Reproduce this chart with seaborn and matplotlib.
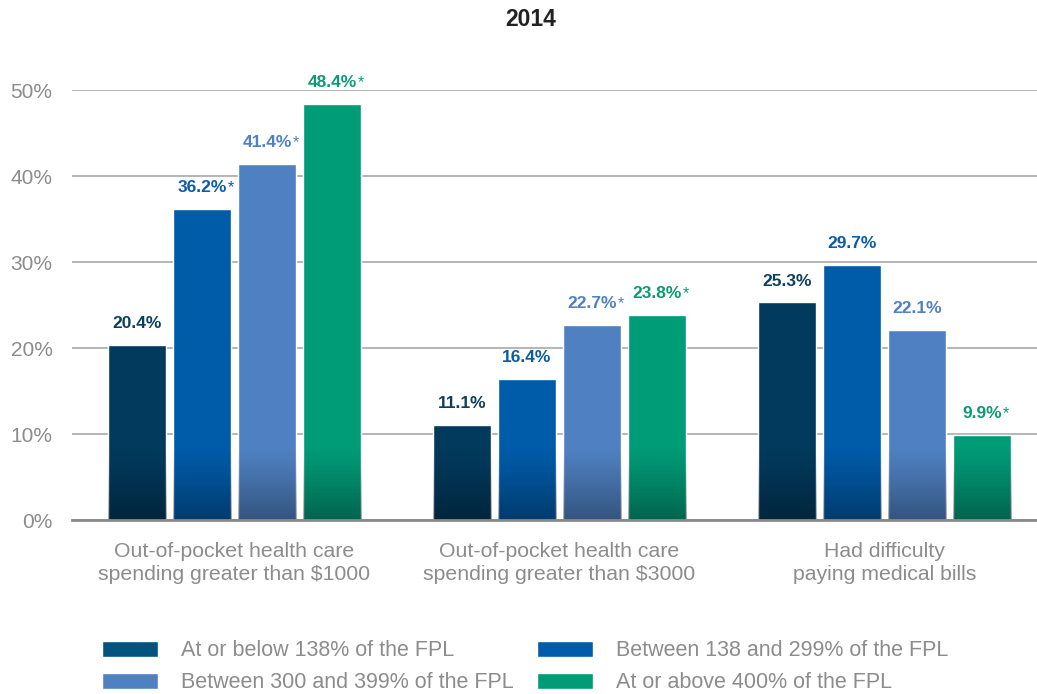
import numpy as np
import pandas as pd
import seaborn as sns
import matplotlib.pyplot as plt
import matplotlib.patches as mpatches

sns.set_style('white')
plt.rcParams['font.family'] = ['Liberation Sans', 'DejaVu Sans']

categories = ['Out-of-pocket health care\nspending greater than $1000',
              'Out-of-pocket health care\nspending greater than $3000',
              'Had difficulty\npaying medical bills']
groups = ['At or below 138% of the FPL', 'Between 138 and 299% of the FPL',
          'Between 300 and 399% of the FPL', 'At or above 400% of the FPL']
values = {
    'At or below 138% of the FPL': [20.4, 11.1, 25.3],
    'Between 138 and 299% of the FPL': [36.2, 16.4, 29.7],
    'Between 300 and 399% of the FPL': [41.4, 22.7, 22.1],
    'At or above 400% of the FPL': [48.4, 23.8, 9.9],
}
significant = {
    'At or below 138% of the FPL': [False, False, False],
    'Between 138 and 299% of the FPL': [True, False, False],
    'Between 300 and 399% of the FPL': [True, True, False],
    'At or above 400% of the FPL': [True, True, True],
}
yticks = [0, 10, 20, 30, 40, 50]

bar_colors = ['#023a5d', '#005ba9', '#4f81c2', '#009b77']
label_colors = ['#0d3f5e', '#0a5ba8', '#4f81c2', '#0d9b77']
legend_colors = ['#02537e', '#005ba9', '#4f81c2', '#009b77']
gray = '#8c8c8c'

rows = []
for g in groups:
    for c, v in zip(categories, values[g]):
        rows.append({'category': c, 'group': g, 'value': v})
df = pd.DataFrame(rows)

fig = plt.figure(figsize=(10.37, 6.94), dpi=100, facecolor='white')
ax = fig.add_axes([72 / 1037, 174 / 694, 1 - 72 / 1037, 430 / 694])

sns.barplot(data=df, x='category', y='value', hue='group', order=categories,
            hue_order=groups, palette=bar_colors, width=0.8, gap=0.1,
            saturation=1, errorbar=None, legend=False, ax=ax, zorder=3)

# darker shading near the bottom of each bar
grad = np.zeros((100, 1, 4))
grad[:, 0, 3] = np.linspace(0.0, 0.42, 100) ** 1.2
for patch in ax.patches:
    x0 = patch.get_x()
    w = patch.get_width()
    im = ax.imshow(grad, extent=(x0, x0 + w, 0, 8.5), aspect='auto',
                   origin='upper', zorder=4, interpolation='bilinear')
    im.set_clip_path(patch)

# value labels
for gi, cont in enumerate(ax.containers):
    g = groups[gi]
    for ci, bar in enumerate(cont):
        v = values[g][ci]
        xc = bar.get_x() + bar.get_width() / 2
        t = ax.annotate(f'{v:.1f}%', (xc, v), xytext=(0, 10),
                        textcoords='offset points', ha='center', va='bottom',
                        fontsize=12.5, fontweight='bold', color=label_colors[gi],
                        annotation_clip=False)
        if significant[g][ci]:
            ax.annotate('*', xy=(1, 1), xycoords=t, xytext=(1, 0),
                        textcoords='offset points', ha='left', va='top',
                        fontsize=11.5, color=label_colors[gi])

ax.set_ylim(0, 50)
ax.set_xlim(-0.5, 2.47)
ax.set_yticks(yticks)
ax.set_yticklabels([f'{y}%' for y in yticks])
ax.yaxis.grid(True, color='#a0a0a0', linewidth=1.1, zorder=0)
ax.set_axisbelow(True)
ax.tick_params(axis='y', length=0, pad=14, labelsize=15, labelcolor=gray)
ax.tick_params(axis='x', length=0, pad=16, labelsize=15.3, labelcolor=gray)
ax.set_xlabel('')
ax.set_ylabel('')
for s in ['top', 'right', 'left']:
    ax.spines[s].set_visible(False)
ax.spines['bottom'].set_color('#8a8a8a')
ax.spines['bottom'].set_linewidth(2)
ax.spines['bottom'].set_zorder(5)
for lab in ax.get_xticklabels():
    lab.set_linespacing(1.25)

fig.text(531 / 1037, 1 - 19 / 694, '2014', ha='center', va='center',
         fontsize=16.5, fontweight='bold', color='#222222')

handles = [mpatches.Patch(facecolor=c, label=g) for c, g in zip(legend_colors, groups)]
order = [0, 2, 1, 3]
fig.legend(handles=[handles[i] for i in order], ncol=2, frameon=False,
           loc='upper left', bbox_to_anchor=(96 / 1037, 1 - 634 / 694),
           fontsize=15.5, labelcolor=gray, handlelength=2.6, handleheight=0.8,
           handletextpad=1.07, columnspacing=1.07, labelspacing=0.5,
           borderaxespad=0, borderpad=0.3)

fig.savefig('out.png', dpi=100, facecolor='white')
